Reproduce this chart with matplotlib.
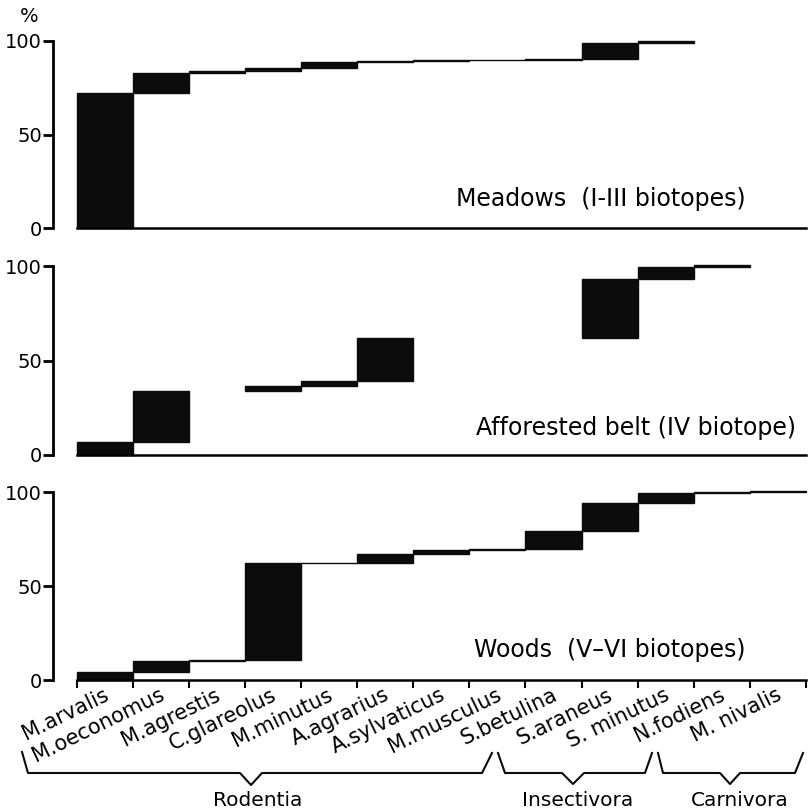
import numpy as np
import matplotlib
matplotlib.use("Agg")
import matplotlib.pyplot as plt
from matplotlib.lines import Line2D

# ---------------- data (percent of catch per species) ----------------
species = ["M.arvalis", "M.oeconomus", "M.agrestis", "C.glareolus", "M.minutus",
           "A.agrarius", "A.sylvaticus", "M.musculus", "S.betulina", "S.araneus",
           "S. minutus", "N.fodiens", "M. nivalis"]
meadows = [72, 11, 0.8, 1.5, 3.5, 0.4, 0.4, 0.4, 0.4, 8.5, 1.2, 0, 0]
afforested = [7, 27, 0, 2.5, 2.5, 23, 0, 0, 0, 31, 6.5, 0.8, 0]
woods = [4, 6, 0.7, 51.5, 0.3, 4.5, 2, 0.5, 9.5, 15, 5.5, 0.5, 0.4]
panel_titles = ["Meadows  (I-III biotopes)", "Afforested belt (IV biotope)",
                "Woods  (V\u2013VI biotopes)"]
groups = ["Rodentia", "Insectivora", "Carnivora"]
yticks = [0, 50, 100]

# ---------------- layout ----------------
W, H = 810, 811
fig = plt.figure(figsize=(W / 100, H / 100), dpi=100)
plt.rcParams["font.family"] = ["DejaVu Sans"]


def fx(px):
    return px / W


def fy(py):
    return 1 - py / H


YLO, YHI = -1.5, 104
XLO, XHI = -0.428, 13.04
INK = "#0b0b0b"

# (values, pixel y of 100, pixel y of 0, title right px, title centre y px)
layout = [(meadows, 41, 228, 746, 199),
          (afforested, 266, 455, 796, 428),
          (woods, 492, 680, 745, 650)]

axes = []
for k, (vals, y100, y0, tx, ty) in enumerate(layout):
    s = (y0 - y100) / 100.0
    top_px = y100 - (YHI - 100) * s
    bot_px = y0 - YLO * s
    ax = fig.add_axes([fx(53), fy(bot_px), fx(808) - fx(53), (bot_px - top_px) / H])
    ax.set_xlim(XLO, XHI)
    ax.set_ylim(YLO, YHI)
    vals = np.asarray(vals, dtype=float)
    bottoms = np.concatenate([[0], np.cumsum(vals)[:-1]])
    x = np.arange(len(vals))
    m = vals > 0
    ax.bar(x[m], vals[m], bottom=bottoms[m], width=1, align="edge",
           color=INK, edgecolor=INK, linewidth=1.0)
    for side in ("top", "right"):
        ax.spines[side].set_visible(False)
    ax.spines["left"].set_bounds(0, 100)
    ax.spines["left"].set_linewidth(2)
    ax.spines["bottom"].set_position(("data", 0))
    ax.spines["bottom"].set_bounds(0, len(vals))
    ax.spines["bottom"].set_linewidth(1.8)
    ax.set_yticks(yticks)
    ax.set_yticklabels([str(t) for t in yticks])
    ax.tick_params(axis="y", direction="out", length=7, width=2, labelsize=14, pad=1)
    if k < 2:
        ax.set_xticks([])
    else:
        ax.set_xticks(np.arange(len(vals) + 1))
        ax.tick_params(axis="x", direction="out", length=6, width=1.5, labelbottom=False)
    ax.patch.set_visible(False)
    fig.text(fx(tx), fy(ty), panel_titles[k], ha="right", va="center", fontsize=17)
    axes.append(ax)

# species labels under the last panel
ax3 = axes[-1]
for i, name in enumerate(species):
    ax3.annotate(name, xy=(i + 0.5, 0), xycoords="data", xytext=(5, -19),
                 textcoords="offset pixels", rotation=26, rotation_mode="anchor",
                 ha="right", va="baseline", fontsize=15, annotation_clip=False)

# "%" sign above the top axis
fig.text(fx(29), fy(16), "%", ha="center", va="center", fontsize=14)

# braces grouping the species (pixel layout)
brace_px = [
    [(22, 752), (28, 773), (240, 773), (251, 785), (262, 773), (482, 773), (492, 753)],
    [(498, 753), (505, 773), (562, 773), (573, 784), (584, 773), (645, 773), (652, 753)],
    [(658, 753), (663, 773), (720, 773), (730, 784), (740, 773), (795, 773), (803, 753)],
]
label_px = [(258, 800), (578, 800), (740, 800)]
for pts, (lx, ly), g in zip(brace_px, label_px, groups):
    xs = [fx(p[0]) for p in pts]
    ys = [fy(p[1]) for p in pts]
    fig.add_artist(Line2D(xs, ys, transform=fig.transFigure, color=INK, lw=1.5))
    fig.text(fx(lx), fy(ly), g, ha="center", va="center", fontsize=14.5)

fig.savefig("out.png", dpi=100)
